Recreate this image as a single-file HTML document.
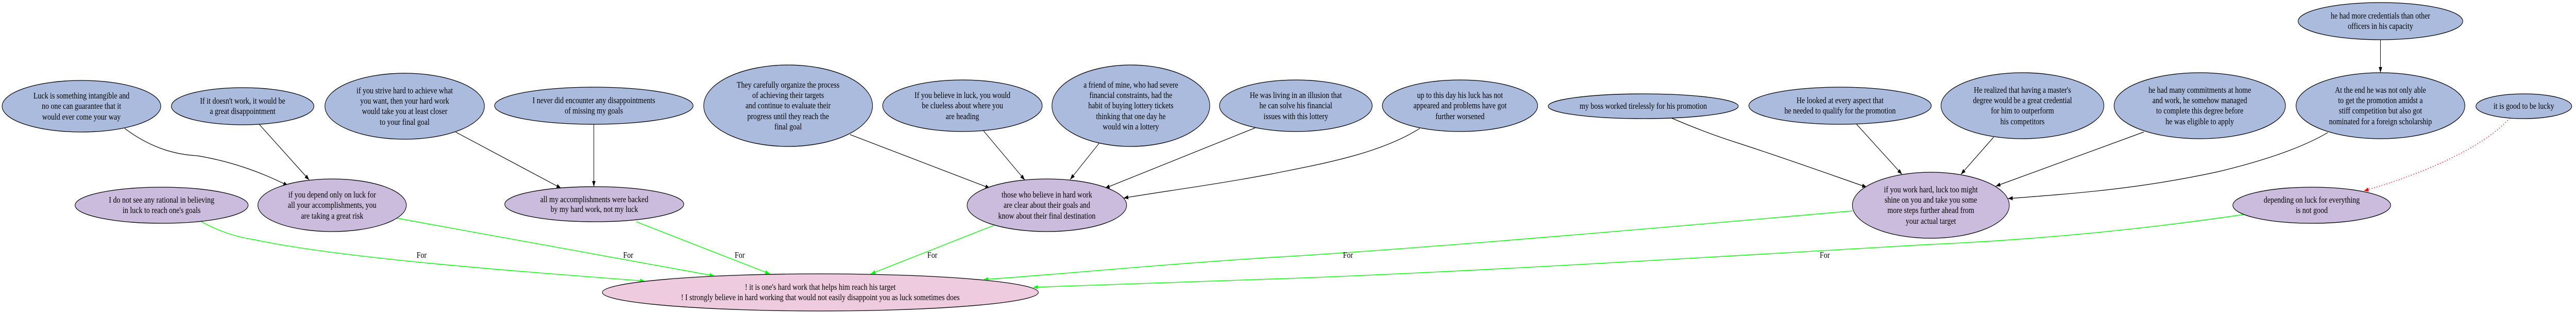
<!DOCTYPE html>
<html><head><meta charset="utf-8"><style>
html,body{margin:0;padding:0;background:#fff;width:100%;height:100%;overflow:hidden;}
svg{display:block;width:100vw;height:100vh;}
text{font-family:"Liberation Serif",serif;font-size:17px;fill:#000;text-anchor:middle;}
.b{fill:#aabbdd;stroke:#000;stroke-width:1.3;}
.p{fill:#cbbbdd;stroke:#000;stroke-width:1.3;}
.k{fill:#efcbdf;stroke:#000;stroke-width:1.3;}
.e{fill:none;stroke:#000;stroke-width:1.2;}
.g{fill:none;stroke:#00ff00;stroke-width:1.4;}
.r{fill:none;stroke:#ff0000;stroke-width:1.3;stroke-dasharray:2,4;}
</style></head><body>
<svg viewBox="0 0 6073 605" preserveAspectRatio="none" xmlns="http://www.w3.org/2000/svg">
<defs>
<marker id="ak" markerUnits="userSpaceOnUse" markerWidth="12" markerHeight="10" refX="11" refY="4" orient="auto"><path d="M0,0 L11,4 L0,8 z" fill="#000"/></marker>
<marker id="ag" markerUnits="userSpaceOnUse" markerWidth="12" markerHeight="10" refX="11" refY="4" orient="auto"><path d="M0,0 L11,4 L0,8 z" fill="#00ff00"/></marker>
<marker id="ar" markerUnits="userSpaceOnUse" markerWidth="12" markerHeight="10" refX="11" refY="4" orient="auto"><path d="M0,0 L11,4 L0,8 z" fill="#ff0000"/></marker>
</defs>

<path class="e" marker-end="url(#ak)" d="M294,249 C360,290 420,300 465,302 C560,315 630,340 679,360"/>
<path class="e" marker-end="url(#ak)" d="M611,241 L729,349"/>
<path class="e" marker-end="url(#ak)" d="M1074,256 L1323,365"/>
<path class="e" marker-end="url(#ak)" d="M1400,241 L1400,362"/>
<path class="e" marker-end="url(#ak)" d="M2004,261 L2334,365"/>
<path class="e" marker-end="url(#ak)" d="M2319,254 L2416,349"/>
<path class="e" marker-end="url(#ak)" d="M2591,278 L2523,348"/>
<path class="e" marker-end="url(#ak)" d="M2959,248 L2605,365"/>
<path class="e" marker-end="url(#ak)" d="M3347,249 C3250,300 3100,320 3000,337 C2850,360 2750,370 2649,384"/>
<path class="e" marker-end="url(#ak)" d="M3941,229 C4000,250 4050,265 4096,277 C4220,310 4320,340 4401,363"/>
<path class="e" marker-end="url(#ak)" d="M4377,241 L4484,338"/>
<path class="e" marker-end="url(#ak)" d="M4700,266 L4623,338"/>
<path class="e" marker-end="url(#ak)" d="M5054,256 L4705,361"/>
<path class="e" marker-end="url(#ak)" d="M5488,257 C5420,290 5320,315 5229,333 C5050,365 4900,375 4734,385"/>
<path class="e" marker-end="url(#ak)" d="M5612,77 L5612,141"/>
<path class="r" marker-end="url(#ar)" d="M5917,229 C5850,290 5700,340 5573,370"/>

<path class="g" marker-end="url(#ag)" d="M475,430 C520,450 560,460 601,465 C800,500 1200,525 1520,545"/>
<path class="g" marker-end="url(#ag)" d="M935,423 L1684,535"/>
<path class="g" marker-end="url(#ag)" d="M1500,430 L1815,531"/>
<path class="g" marker-end="url(#ag)" d="M2346,436 L2053,531"/>
<path class="g" marker-end="url(#ag)" d="M4367,409 C3800,450 3300,485 3000,499 C2700,515 2500,532 2319,542"/>
<path class="g" marker-end="url(#ag)" d="M5289,416 C5050,445 4800,465 4550,474 C4000,500 3400,530 3000,541 C2800,547 2600,552 2436,557"/>
<text x="994" y="500">For</text>
<text x="1481" y="500">For</text>
<text x="1744" y="500">For</text>
<text x="2198" y="500">For</text>
<text x="3178" y="500">For</text>
<text x="4302" y="500">For</text>

<ellipse class="b" cx="192" cy="206" rx="187" ry="50"/>
<text x="192" y="191">Luck is something intangible and</text><text x="192" y="211">no one can guarantee that it</text><text x="192" y="232">would ever come your way</text>
<ellipse class="b" cx="572" cy="206" rx="168" ry="36"/>
<text x="572" y="201">If it doesn't work, it would be</text><text x="572" y="221">a great disappointment</text>
<ellipse class="b" cx="954" cy="206" rx="188" ry="64"/>
<text x="954" y="181">if you strive hard to achieve what</text><text x="954" y="201">you want, then your hard work</text><text x="954" y="221">would take you at least closer</text><text x="954" y="242">to your final goal</text>
<ellipse class="b" cx="1400" cy="205" rx="234" ry="36"/>
<text x="1400" y="200">I never did encounter any disappointments</text><text x="1400" y="220">of missing my goals</text>
<ellipse class="b" cx="1858" cy="205" rx="199" ry="79"/>
<text x="1858" y="170">They carefully organize the process</text><text x="1858" y="190">of achieving their targets</text><text x="1858" y="210">and continue to evaluate their</text><text x="1858" y="231">progress until they reach the</text><text x="1858" y="251">final goal</text>
<ellipse class="b" cx="2269" cy="205" rx="188" ry="50"/>
<text x="2269" y="190">If you believe in luck, you would</text><text x="2269" y="210">be clueless about where you</text><text x="2269" y="231">are heading</text>
<ellipse class="b" cx="2666" cy="205" rx="186" ry="79"/>
<text x="2666" y="170">a friend of mine, who had severe</text><text x="2666" y="190">financial constraints, had the</text><text x="2666" y="210">habit of buying lottery tickets</text><text x="2666" y="231">thinking that one day he</text><text x="2666" y="251">would win a lottery</text>
<ellipse class="b" cx="3055" cy="205" rx="180" ry="50"/>
<text x="3055" y="190">He was living in an illusion that</text><text x="3055" y="210">he can solve his financial</text><text x="3055" y="231">issues with this lottery</text>
<ellipse class="b" cx="3442" cy="205" rx="183" ry="50"/>
<text x="3442" y="190">up to this day his luck has not</text><text x="3442" y="210">appeared and problems have got</text><text x="3442" y="231">further worsened</text>
<ellipse class="b" cx="3874" cy="206" rx="224" ry="24"/>
<text x="3874" y="211">my boss worked tirelessly for his promotion</text>
<ellipse class="b" cx="4338" cy="205" rx="215" ry="36"/>
<text x="4338" y="200">He looked at every aspect that</text><text x="4338" y="220">he needed to qualify for the promotion</text>
<ellipse class="b" cx="4768" cy="205" rx="192" ry="64"/>
<text x="4768" y="180">He realized that having a master's</text><text x="4768" y="200">degree would be a great credential</text><text x="4768" y="220">for him to outperform</text><text x="4768" y="241">his competitors</text>
<ellipse class="b" cx="5186" cy="205" rx="202" ry="64"/>
<text x="5186" y="180">he had many commitments at home</text><text x="5186" y="200">and work, he somehow managed</text><text x="5186" y="220">to complete this degree before</text><text x="5186" y="241">he was eligible to apply</text>
<ellipse class="b" cx="5612" cy="205" rx="199" ry="64"/>
<text x="5612" y="180">At the end he was not only able</text><text x="5612" y="200">to get the promotion amidst a</text><text x="5612" y="220">stiff competition but also got</text><text x="5612" y="241">nominated for a foreign scholarship</text>
<ellipse class="b" cx="5612" cy="41" rx="194" ry="36"/>
<text x="5612" y="36">he had more credentials than other</text><text x="5612" y="56">officers in his capacity</text>
<ellipse class="b" cx="5950" cy="206" rx="113" ry="24"/>
<text x="5950" y="211">it is good to be lucky</text>

<ellipse class="p" cx="381" cy="398" rx="204" ry="35"/>
<text x="381" y="393">I do not see any rational in believing</text><text x="381" y="413">in luck to reach one's goals</text>
<ellipse class="p" cx="783" cy="398" rx="175" ry="51"/>
<text x="783" y="383">if you depend only on luck for</text><text x="783" y="403">all your accomplishments, you</text><text x="783" y="424">are taking a great risk</text>
<ellipse class="p" cx="1401" cy="396" rx="211" ry="34"/>
<text x="1401" y="392">all my accomplishments were backed</text><text x="1401" y="411">by my hard work, not my luck</text>
<ellipse class="p" cx="2468" cy="398" rx="188" ry="51"/>
<text x="2468" y="383">those who believe in hard work</text><text x="2468" y="403">are clear about their goals and</text><text x="2468" y="424">know about their final destination</text>
<ellipse class="p" cx="4552" cy="398" rx="185" ry="64"/>
<text x="4552" y="373">if you work hard, luck too might</text><text x="4552" y="393">shine on you and take you some</text><text x="4552" y="413">more steps further ahead from</text><text x="4552" y="434">your actual target</text>
<ellipse class="p" cx="5450" cy="398" rx="186" ry="35"/>
<text x="5450" y="393">depending on luck for everything</text><text x="5450" y="413">is not good</text>

<ellipse class="k" cx="1934" cy="567" rx="514" ry="36"/>
<text x="1934" y="562">! it is one's hard work that helps him reach his target</text>
<text x="1934" y="582">! I strongly believe in hard working that would not easily disappoint you as luck sometimes does</text>
</svg>
</body></html>
